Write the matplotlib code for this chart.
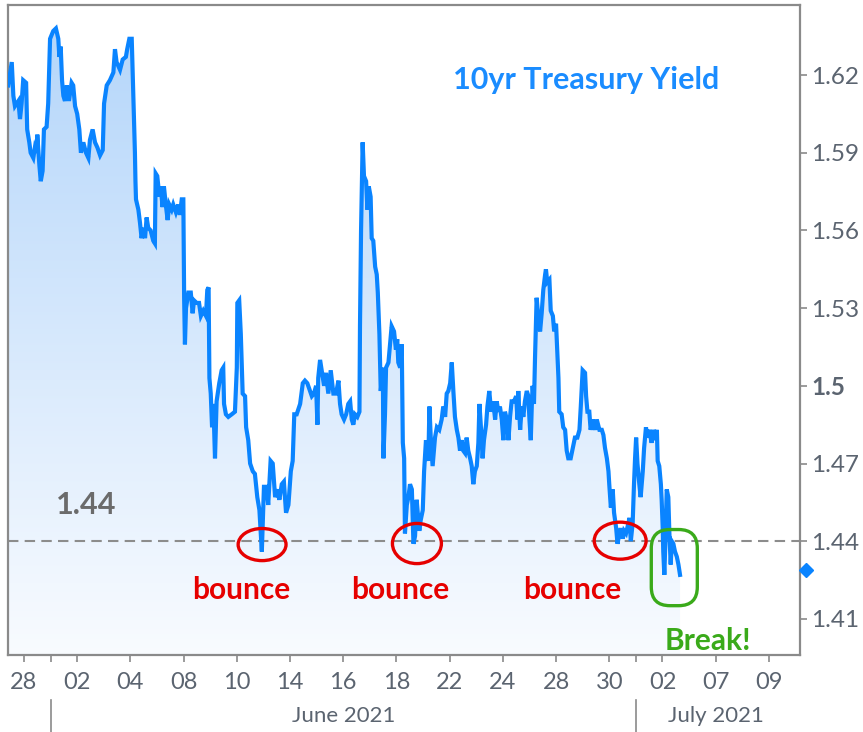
import matplotlib.pyplot as plt
import numpy as np
from matplotlib.patches import Ellipse, FancyBboxPatch, PathPatch
from matplotlib.path import Path
import matplotlib.transforms as mtransforms

plt.rcParams['font.family'] = ['Lato', 'DejaVu Sans']

# trading days shown on the axis (May 28 -> Jul 9, 2021)
trade_days = ['28', '01', '02', '03', '04', '07', '08', '09', '10', '11', '14', '15',
              '16', '17', '18', '21', '22', '23', '24', '25', '28', '29', '30',
              '01', '02', '06', '07', '08', '09']
month_starts = [1, 23]
month_names = ['June 2021', 'July 2021']
month_label_pos = [12.0, 26.0]

# 10yr yield, x = trading-day index (0 = May 28)
day = [-0.59, -0.46, -0.40, -0.34, -0.21, -0.15, -0.09, -0.03, 0.08, 0.12, 0.20, 0.25,
       0.35, 0.41, 0.48, 0.50, 0.58, 0.63, 0.70, 0.75, 0.85, 0.91, 0.98, 1.10, 1.20,
       1.29, 1.33, 1.38, 1.43, 1.48, 1.54, 1.61, 1.69, 1.79, 1.85, 1.92, 2.00, 2.08,
       2.14, 2.23, 2.33, 2.42, 2.48, 2.58, 2.67, 2.76, 2.86, 2.96, 3.01, 3.11, 3.23,
       3.36, 3.42, 3.48, 3.61, 3.71, 3.83, 3.88, 3.96, 4.05, 4.11, 4.17, 4.19, 4.21,
       4.30, 4.36, 4.42, 4.49, 4.55, 4.61, 4.67, 4.76, 4.86, 4.92, 4.95, 5.01, 5.09,
       5.14, 5.21, 5.26, 5.33, 5.40, 5.46, 5.55, 5.61, 5.71, 5.80, 5.86, 5.93, 5.99,
       6.02, 6.05, 6.09, 6.18, 6.27, 6.34, 6.39, 6.49, 6.58, 6.65, 6.74, 6.84, 6.89,
       6.94, 6.97, 7.02, 7.07, 7.12, 7.18, 7.24, 7.34, 7.43, 7.49, 7.52, 7.59, 7.68,
       7.81, 7.93, 8.00, 8.02, 8.09, 8.15, 8.22, 8.31, 8.35, 8.43, 8.50, 8.60, 8.68,
       8.77, 8.85, 8.90, 8.94, 9.02, 9.12, 9.18, 9.27, 9.35, 9.44, 9.52, 9.60, 9.69,
       9.77, 9.85, 9.94, 10.03, 10.10, 10.16, 10.25, 10.38, 10.48, 10.56, 10.65, 10.75,
       10.82, 10.90, 10.98, 11.03, 11.06, 11.13, 11.19, 11.28, 11.35, 11.44, 11.53,
       11.63, 11.73, 11.82, 11.88, 11.94, 12.03, 12.11, 12.19, 12.26, 12.32, 12.38,
       12.44, 12.53, 12.61, 12.63, 12.67, 12.73, 12.78, 12.86, 12.91, 12.96, 13.03,
       13.07, 13.13, 13.20, 13.26, 13.30, 13.36, 13.41, 13.49, 13.51, 13.57, 13.61,
       13.70, 13.76, 13.82, 13.91, 13.98, 14.03, 14.07, 14.14, 14.20, 14.24, 14.29,
       14.32, 14.39, 14.45, 14.51, 14.58, 14.64, 14.70, 14.76, 14.86, 14.91, 14.99,
       15.04, 15.11, 15.20, 15.24, 15.29, 15.36, 15.45, 15.52, 15.61, 15.70, 15.76,
       15.83, 15.89, 15.95, 16.02, 16.08, 16.14, 16.20, 16.27, 16.33, 16.39, 16.45,
       16.51, 16.58, 16.64, 16.70, 16.77, 16.83, 16.89, 16.95, 17.02, 17.08, 17.12,
       17.17, 17.24, 17.29, 17.37, 17.42, 17.49, 17.56, 17.64, 17.71, 17.77, 17.83,
       17.89, 17.96, 18.02, 18.08, 18.15, 18.21, 18.27, 18.33, 18.42, 18.50, 18.55,
       18.58, 18.65, 18.71, 18.77, 18.83, 18.90, 18.96, 19.00, 19.05, 19.09, 19.12,
       19.17, 19.21, 19.27, 19.33, 19.40, 19.46, 19.52, 19.59, 19.62, 19.67, 19.75,
       19.80, 19.88, 19.93, 20.00, 20.05, 20.09, 20.12, 20.21, 20.27, 20.34, 20.40,
       20.46, 20.55, 20.63, 20.71, 20.80, 20.88, 20.93, 21.00, 21.09, 21.13, 21.18,
       21.25, 21.30, 21.38, 21.47, 21.53, 21.63, 21.72, 21.78, 21.84, 21.91, 21.97,
       22.00, 22.06, 22.13, 22.18, 22.26, 22.31, 22.38, 22.43, 22.51, 22.56, 22.63,
       22.72, 22.76, 22.81, 22.88, 22.93, 22.97, 23.01, 23.06, 23.13, 23.18, 23.26,
       23.31, 23.38, 23.43, 23.51, 23.59, 23.66, 23.72, 23.79, 23.82, 23.88, 23.94,
       23.97, 24.01, 24.03, 24.07, 24.11, 24.16, 24.22, 24.26, 24.31, 24.35, 24.41,
       24.47, 24.54, 24.60, 24.66]
yld = [1.616, 1.625, 1.612, 1.608, 1.610, 1.603, 1.609, 1.618, 1.617, 1.599, 1.594, 1.590,
       1.588, 1.592, 1.590, 1.597, 1.585, 1.579, 1.583, 1.599, 1.600, 1.609, 1.634, 1.637,
       1.638, 1.634, 1.627, 1.631, 1.618, 1.612, 1.610, 1.616, 1.610, 1.617, 1.616, 1.608,
       1.605, 1.599, 1.590, 1.594, 1.590, 1.588, 1.595, 1.599, 1.594, 1.592, 1.589, 1.591,
       1.609, 1.616, 1.618, 1.621, 1.630, 1.625, 1.622, 1.626, 1.627, 1.630, 1.634, 1.634,
       1.612, 1.590, 1.579, 1.572, 1.568, 1.563, 1.557, 1.561, 1.557, 1.565, 1.561, 1.560,
       1.556, 1.555, 1.582, 1.581, 1.573, 1.577, 1.569, 1.577, 1.570, 1.564, 1.570, 1.568,
       1.570, 1.567, 1.570, 1.566, 1.572, 1.572, 1.534, 1.516, 1.530, 1.536, 1.536, 1.528,
       1.533, 1.532, 1.532, 1.527, 1.529, 1.527, 1.537, 1.538, 1.503, 1.497, 1.484, 1.493,
       1.472, 1.494, 1.501, 1.506, 1.507, 1.493, 1.489, 1.488, 1.489, 1.490, 1.507, 1.532,
       1.533, 1.520, 1.497, 1.496, 1.484, 1.479, 1.470, 1.467, 1.466, 1.457, 1.452, 1.443,
       1.436, 1.461, 1.461, 1.454, 1.471, 1.470, 1.457, 1.460, 1.456, 1.462, 1.463, 1.451,
       1.454, 1.467, 1.471, 1.489, 1.489, 1.493, 1.501, 1.502, 1.501, 1.498, 1.496, 1.497,
       1.500, 1.485, 1.503, 1.510, 1.506, 1.500, 1.505, 1.497, 1.506, 1.497, 1.497, 1.502,
       1.493, 1.489, 1.487, 1.489, 1.493, 1.494, 1.487, 1.485, 1.489, 1.488, 1.490, 1.523,
       1.560, 1.594, 1.581, 1.579, 1.568, 1.577, 1.573, 1.557, 1.556, 1.546, 1.543, 1.536,
       1.520, 1.498, 1.507, 1.472, 1.489, 1.507, 1.509, 1.516, 1.523, 1.521, 1.514, 1.518,
       1.509, 1.507, 1.516, 1.478, 1.472, 1.443, 1.454, 1.457, 1.462, 1.460, 1.439, 1.442,
       1.456, 1.444, 1.448, 1.452, 1.467, 1.479, 1.471, 1.492, 1.480, 1.469, 1.480, 1.484,
       1.483, 1.487, 1.492, 1.488, 1.497, 1.498, 1.501, 1.509, 1.498, 1.488, 1.483, 1.480,
       1.475, 1.479, 1.475, 1.474, 1.480, 1.475, 1.472, 1.469, 1.462, 1.467, 1.469, 1.478,
       1.493, 1.485, 1.472, 1.479, 1.485, 1.492, 1.498, 1.490, 1.494, 1.487, 1.494, 1.490,
       1.492, 1.487, 1.479, 1.490, 1.487, 1.479, 1.488, 1.494, 1.494, 1.496, 1.487, 1.498,
       1.483, 1.492, 1.488, 1.494, 1.498, 1.496, 1.487, 1.479, 1.493, 1.500, 1.493, 1.511,
       1.534, 1.527, 1.521, 1.528, 1.537, 1.543, 1.545, 1.540, 1.541, 1.529, 1.527, 1.521,
       1.524, 1.512, 1.503, 1.490, 1.489, 1.484, 1.483, 1.475, 1.472, 1.472, 1.476, 1.480,
       1.480, 1.483, 1.492, 1.506, 1.505, 1.496, 1.490, 1.490, 1.483, 1.487, 1.483, 1.487,
       1.483, 1.483, 1.481, 1.476, 1.472, 1.467, 1.462, 1.453, 1.460, 1.451, 1.445, 1.439,
       1.443, 1.445, 1.441, 1.444, 1.443, 1.447, 1.449, 1.440, 1.447, 1.462, 1.472, 1.480,
       1.470, 1.462, 1.457, 1.467, 1.476, 1.484, 1.480, 1.483, 1.478, 1.483, 1.479, 1.483,
       1.471, 1.469, 1.462, 1.456, 1.445, 1.436, 1.427, 1.440, 1.460, 1.457, 1.443, 1.431,
       1.440, 1.439, 1.436, 1.434, 1.431, 1.427]

level = 1.44
last_value = 1.429
y_ticks = [1.41, 1.44, 1.47, 1.50, 1.53, 1.56, 1.59, 1.62]
bounce_days = [8.95, 14.77, 22.41]
bounce_ylds = [1.4387, 1.4391, 1.4402]
bounce_sizes = [(1.80, 0.0124), (1.84, 0.0155), (1.95, 0.0143)]
break_box = (23.58, 1.4151, 1.73, 0.0294)

line_blue = '#0a84ff'
grey = '#5b6470'
spine_grey = '#8a8a8a'

fig = plt.figure(figsize=(8.63, 7.32), dpi=100)
ax = fig.add_axes([0.0093, 0.105, 0.9177, 0.888])
x0, x1 = -0.6, 29.17
y0, y1 = 1.396, 1.647
ax.set_xlim(x0, x1)
ax.set_ylim(y0, y1)

# gradient area under the line (light blue at the top, almost white at the bottom)
verts = list(zip(day, yld)) + [(day[-1], y0), (day[0], y0)]
clip = PathPatch(Path(verts), facecolor='none', edgecolor='none')
ax.add_patch(clip)
grad = np.linspace(0, 1, 256).reshape(-1, 1)
top_c = np.array([0.70, 0.835, 0.98])
bot_c = np.array([0.975, 0.985, 1.0])
img = top_c[None, None, :] * (1 - grad[:, :, None]) + bot_c[None, None, :] * grad[:, :, None]
im = ax.imshow(img, extent=[x0, x1, y0, y1], aspect='auto', origin='upper', zorder=1)
im.set_clip_path(clip)
ax.set_xlim(x0, x1)
ax.set_ylim(y0, y1)

ax.axhline(level, color='#8c8c8c', lw=1.5, ls=(0, (5, 3)), zorder=2)
ax.plot(day, yld, color=line_blue, lw=3.0, zorder=3, solid_joinstyle='miter')

# annotations
for cx, cy, (w, h) in zip(bounce_days, bounce_ylds, bounce_sizes):
    ax.add_patch(Ellipse((cx, cy), w, h, fill=False, edgecolor='#e60000', lw=2.4, zorder=4))
bx, by, bw, bh = break_box
ax.add_patch(FancyBboxPatch((bx, by), bw, bh, boxstyle='round,pad=0,rounding_size=0.7',
                            mutation_aspect=0.0103, fill=False, edgecolor='#3aaa1a',
                            lw=2.4, zorder=4))

ax.text(0.730, 0.885, '10yr Treasury Yield', transform=ax.transAxes, color='#1a8cff',
        fontsize=22, fontweight='bold', ha='center', va='center')
ax.text(0.0985, 0.231, '1.44', transform=ax.transAxes, color='#6b6b6b',
        fontsize=22, fontweight='bold', ha='center', va='center')
for xf in [0.294, 0.495, 0.713]:
    ax.text(xf, 0.100, 'bounce', transform=ax.transAxes, color='#e60000',
            fontsize=21.5, fontweight='bold', ha='center', va='center')
ax.text(0.884, 0.022, 'Break!', transform=ax.transAxes, color='#3aaa1a',
        fontsize=21.5, fontweight='bold', ha='center', va='center', zorder=2)

# last value marker on the right axis
ax.plot([1.008], [last_value], marker='D', ms=7, color=line_blue,
        transform=ax.get_yaxis_transform(), clip_on=False, zorder=5)

# axes styling
for s in ax.spines.values():
    s.set_color(spine_grey)
    s.set_linewidth(1.6)
ax.yaxis.tick_right()
ax.set_yticks(y_ticks)
ax.set_yticklabels(['%g' % v for v in y_ticks])
for lab in ax.get_yticklabels():
    if lab.get_text() == '1.5':
        lab.set_fontweight('bold')
ax.tick_params(axis='y', direction='out', length=5, width=1.2, color=spine_grey,
               labelcolor=grey, labelsize=17.5, pad=3)

major = list(range(0, len(trade_days), 2))
ax.set_xticks(major)
ax.set_xticklabels([trade_days[i] for i in major])
ax.set_xticks(month_starts, minor=True)
ax.tick_params(axis='x', which='both', direction='out', length=5, width=1.2,
               color=spine_grey, labelcolor=grey, labelsize=17, pad=7)

trans = mtransforms.blended_transform_factory(ax.transData, ax.transAxes)
for m in month_starts:
    ax.plot([m, m], [-0.069, -0.125], color=spine_grey, lw=1.2, transform=trans,
            clip_on=False)
for name, pos in zip(month_names, month_label_pos):
    ax.text(pos, -0.094, name, transform=trans, color=grey, fontsize=16,
            ha='center', va='center')

fig.savefig('out.png', dpi=100, facecolor='white')
